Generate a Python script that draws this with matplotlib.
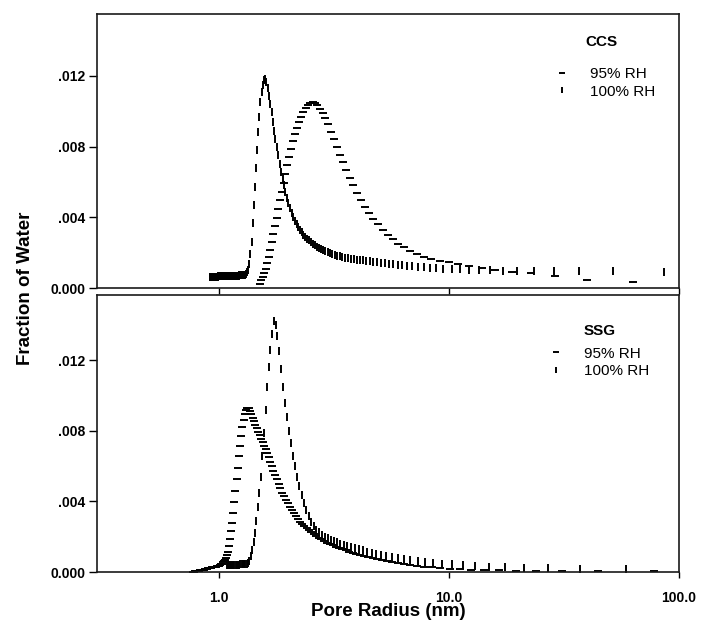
import numpy as np
import matplotlib
matplotlib.use("Agg")
import matplotlib.pyplot as plt
from matplotlib.ticker import FixedLocator, NullLocator

plt.rcParams['font.family'] = ['Liberation Sans', 'DejaVu Sans']

# pore radius (nm) and fraction of water (values in units of 1e-3)
ccs_100_x = [0.910, 0.916, 0.923, 0.929, 0.936, 0.943, 0.950, 0.957, 0.964, 0.971,
             0.978, 0.986, 0.993, 1.001, 1.009, 1.017, 1.025, 1.033, 1.041, 1.050,
             1.058, 1.067, 1.076, 1.085, 1.094, 1.103, 1.113, 1.122, 1.132, 1.142,
             1.152, 1.162, 1.173, 1.184, 1.194, 1.206, 1.217, 1.228, 1.240, 1.252,
             1.264, 1.277, 1.289, 1.302, 1.315, 1.329, 1.343, 1.357, 1.371, 1.386,
             1.401, 1.416, 1.431, 1.447, 1.464, 1.480, 1.497, 1.515, 1.533, 1.551,
             1.570, 1.589, 1.609, 1.629, 1.650, 1.671, 1.693, 1.715, 1.738, 1.761,
             1.786, 1.811, 1.836, 1.863, 1.890, 1.918, 1.946, 1.976, 2.006, 2.038,
             2.070, 2.104, 2.139, 2.174, 2.211, 2.250, 2.289, 2.330, 2.373, 2.417,
             2.463, 2.511, 2.560, 2.612, 2.665, 2.721, 2.779, 2.840, 2.904, 2.970,
             3.040, 3.112, 3.189, 3.269, 3.353, 3.442, 3.536, 3.635, 3.740, 3.851,
             3.968, 4.093, 4.227, 4.369, 4.521, 4.684, 4.859, 5.048, 5.252, 5.473,
             5.714, 5.977, 6.266, 6.583, 6.935, 7.326, 7.764, 8.258, 8.818, 9.461,
             10.3, 11.2, 12.2, 13.5, 15.1, 17.1, 19.8, 23.4, 28.6, 36.8, 51.5, 86.2]
ccs_100_y = [0.63, 0.63, 0.64, 0.63, 0.64, 0.64, 0.65, 0.64, 0.65, 0.65,
             0.65, 0.66, 0.65, 0.66, 0.66, 0.66, 0.67, 0.66, 0.67, 0.67,
             0.67, 0.68, 0.67, 0.68, 0.68, 0.68, 0.69, 0.68, 0.69, 0.69,
             0.69, 0.70, 0.69, 0.70, 0.70, 0.70, 0.71, 0.70, 0.71, 0.71,
             0.72, 0.72, 0.73, 0.74,
             0.78, 0.92, 1.0, 1.35, 1.9, 2.6, 3.7, 4.7, 5.7, 6.8,
             7.8, 8.8, 9.7, 10.5, 11.1, 11.5, 11.75,
             11.8, 11.65, 11.3, 10.85, 10.4, 9.95, 9.4, 8.9, 8.45, 8.0,
             7.5, 7.0, 6.55, 6.15, 5.8, 5.45, 5.1, 4.8, 4.5, 4.25,
             4.0, 3.8, 3.62, 3.45, 3.3, 3.15, 3.02, 2.9, 2.8, 2.7,
             2.6, 2.5, 2.42, 2.34, 2.27, 2.2, 2.14, 2.08, 2.02, 1.97,
             1.92, 1.87, 1.83, 1.79, 1.75, 1.72, 1.69, 1.66, 1.63, 1.61,
             1.58, 1.56, 1.53, 1.51, 1.49, 1.46, 1.44, 1.41, 1.38, 1.35,
             1.32, 1.29, 1.26, 1.23, 1.20, 1.17, 1.14, 1.12, 1.10,
             1.08, 1.05, 1.03, 1.01, 0.99, 0.97, 0.95, 0.94, 0.94, 0.94, 0.94, 0.92]

ccs_95_x = [1.505, 1.527, 1.549, 1.572, 1.595, 1.620, 1.645, 1.671, 1.697, 1.725,
            1.753, 1.783, 1.813, 1.844, 1.877, 1.911, 1.946, 1.982, 2.019, 2.058,
            2.099, 2.141, 2.185, 2.231, 2.279, 2.329, 2.381, 2.435, 2.493, 2.552,
            2.615, 2.681, 2.750, 2.823, 2.900, 2.982, 3.067, 3.159, 3.255, 3.358,
            3.467, 3.584, 3.709, 3.843, 3.987, 4.143, 4.310, 4.492, 4.690, 4.907,
            5.144, 5.405, 5.695, 6.017, 6.378, 6.784, 7.246, 7.776, 8.389, 9.107,
            9.960, 10.99, 12.25, 13.85, 15.92, 18.73, 22.73, 28.90, 39.68, 63.29]
ccs_95_y = [0.25, 0.45, 0.65, 0.85, 1.1, 1.4, 1.75, 2.15, 2.6, 3.05,
            3.5, 3.95, 4.45, 4.95, 5.45, 5.95, 6.45, 6.95, 7.4, 7.85,
            8.3, 8.7, 9.05, 9.4, 9.7, 9.95, 10.2, 10.35, 10.45, 10.5,
            10.45, 10.35, 10.15, 9.9, 9.6, 9.25, 8.85, 8.45, 8.0, 7.55,
            7.1, 6.7, 6.25, 5.8, 5.4, 5.0, 4.6, 4.25, 3.9, 3.6,
            3.3, 3.0, 2.75, 2.5, 2.3, 2.1, 1.93, 1.78, 1.65, 1.54,
            1.45, 1.35, 1.23, 1.12, 1.02, 0.92, 0.86, 0.66, 0.47, 0.34]

ssg_100_x = [1.079, 1.091, 1.103, 1.115, 1.127, 1.140, 1.153, 1.167, 1.181, 1.195,
             1.209, 1.224, 1.239, 1.255, 1.271, 1.287, 1.304, 1.321, 1.339, 1.357,
             1.376, 1.395, 1.414, 1.435, 1.456, 1.477, 1.499, 1.522, 1.546, 1.570,
             1.595, 1.621, 1.647, 1.675, 1.704, 1.733, 1.764, 1.795, 1.828, 1.862,
             1.898, 1.934, 1.972, 2.012, 2.053, 2.096, 2.141, 2.188, 2.237, 2.288,
             2.342, 2.398, 2.457, 2.519, 2.584, 2.653, 2.725, 2.801, 2.882, 2.967,
             3.058, 3.155, 3.257, 3.367, 3.484, 3.610, 3.745, 3.891, 4.049, 4.219,
             4.405, 4.608, 4.831, 5.076, 5.348, 5.650, 5.988, 6.369, 6.803, 7.299,
             7.874, 8.547, 9.346, 10.31, 11.49, 12.99, 14.93, 17.54, 21.28, 27.03,
             37.04, 58.82]
ssg_100_y = [0.38, 0.39, 0.39, 0.40, 0.40, 0.40, 0.41, 0.41, 0.41, 0.42,
             0.42, 0.42, 0.43, 0.43, 0.44, 0.44, 0.45, 0.47, 0.52, 0.65,
             0.9, 1.25, 1.7, 2.2, 2.9, 3.7, 4.5, 5.4, 6.6, 7.9,
             9.2, 10.5, 11.6, 12.6, 13.5, 14.25, 14.0, 13.4, 12.5, 11.5,
             10.5, 9.6, 8.8, 8.0, 7.3, 6.6, 6.0, 5.4, 4.85, 4.35,
             3.9, 3.5, 3.15, 2.85, 2.6, 2.4, 2.25, 2.12, 2.0, 1.9,
             1.82, 1.75, 1.68, 1.61, 1.54, 1.47, 1.40, 1.34, 1.28, 1.22,
             1.16, 1.10, 1.04, 0.98, 0.92, 0.86, 0.80, 0.74, 0.68, 0.63,
             0.58, 0.53, 0.48, 0.44, 0.38, 0.33, 0.29, 0.28, 0.24, 0.20,
             0.17, 0.17]

ssg_95_x = [0.770, 0.775, 0.781, 0.787, 0.793, 0.799, 0.805, 0.812, 0.818, 0.824,
            0.831, 0.838, 0.845, 0.851, 0.858, 0.866, 0.873, 0.880, 0.888, 0.895,
            0.903, 0.911, 0.919, 0.927, 0.936, 0.944, 0.953, 0.961, 0.970, 0.980,
            0.989, 0.998, 1.008, 1.018, 1.028, 1.038, 1.049, 1.059, 1.070, 1.081,
            1.093, 1.104, 1.116, 1.128, 1.140, 1.153, 1.166, 1.179, 1.193, 1.206,
            1.221, 1.235, 1.250, 1.265, 1.281, 1.297, 1.313, 1.330, 1.347, 1.364,
            1.383, 1.401, 1.420, 1.440, 1.460, 1.481, 1.502, 1.524, 1.547, 1.570,
            1.594, 1.619, 1.644, 1.671, 1.698, 1.726, 1.755, 1.785, 1.817, 1.849,
            1.882, 1.917, 1.953, 1.990, 2.029, 2.069, 2.111, 2.155, 2.200, 2.248,
            2.297, 2.349, 2.403, 2.460, 2.520, 2.582, 2.648, 2.717, 2.789, 2.866,
            2.947, 3.033, 3.124, 3.221, 3.323, 3.433, 3.550, 3.675, 3.810, 3.954,
            4.110, 4.279, 4.462, 4.662, 4.880, 5.120, 5.385, 5.679, 6.006, 6.373,
            6.789, 7.262, 7.806, 8.439, 9.183, 10.07, 11.15, 12.48, 14.18, 16.42,
            19.49, 23.98, 31.15, 44.44, 77.52]
ssg_95_y = [0.0, 0.01, 0.02, 0.03, 0.04, 0.05, 0.06, 0.07, 0.08, 0.09,
            0.10, 0.11, 0.12, 0.13, 0.14, 0.16, 0.17, 0.18, 0.19, 0.21,
            0.22, 0.23, 0.24, 0.25, 0.26, 0.27, 0.28, 0.29, 0.31, 0.32,
            0.34, 0.36, 0.39, 0.43, 0.48, 0.55, 0.62, 0.70, 0.80, 0.95,
            1.15, 1.45, 1.85, 2.3, 2.8, 3.35, 3.95, 4.6, 5.25, 5.9,
            6.55, 7.15, 7.7, 8.2, 8.6, 8.95, 9.2, 9.3, 9.3, 9.15,
            8.95, 8.75, 8.55, 8.35, 8.15, 7.95, 7.75, 7.55, 7.35, 7.15,
            6.95, 6.75, 6.5, 6.25, 6.0, 5.75, 5.5, 5.25, 5.0, 4.75,
            4.5, 4.3, 4.1, 3.9, 3.7, 3.5, 3.32, 3.15, 3.0, 2.85,
            2.72, 2.6, 2.48, 2.36, 2.25, 2.14, 2.04, 1.94, 1.85, 1.76,
            1.67, 1.59, 1.51, 1.43, 1.36, 1.29, 1.22, 1.15, 1.08, 1.02,
            0.96, 0.9, 0.84, 0.78, 0.72, 0.66, 0.6, 0.55, 0.49, 0.44,
            0.39, 0.34, 0.3, 0.26, 0.22, 0.19, 0.16, 0.13, 0.11, 0.09,
            0.07, 0.06, 0.06, 0.06, 0.06]

y_ticks = [0.0, 0.004, 0.008, 0.012]
y_ticklabels = ['0.000', '.004', '.008', '.012']
x_ticks = [1.0, 10.0, 100.0]
x_ticklabels = ['1.0', '10.0', '100.0']
labels = ['95% RH', '100% RH']

W, H = 704, 623
fig = plt.figure(figsize=(W / 100, H / 100), dpi=100)
ax1 = fig.add_axes([97 / W, 1 - 288 / H, 582 / W, 274 / H])
ax2 = fig.add_axes([97 / W, 1 - 572 / H, 582 / W, 277 / H])

ms = 5.2
mew = 1.4


def style(ax, top):
    ax.set_xscale('log')
    ax.set_xlim(0.295, 100)
    ax.set_ylim(0, 0.0155 if top else 0.0157)
    for s in ax.spines.values():
        s.set_linewidth(1.2)
        s.set_color('#1a1a1a')
    ax.yaxis.set_major_locator(FixedLocator(y_ticks))
    ax.set_yticklabels(y_ticklabels)
    ax.xaxis.set_major_locator(FixedLocator(x_ticks))
    ax.xaxis.set_minor_locator(NullLocator())
    ax.tick_params(axis='y', direction='out', length=5.5, width=1.0, pad=3, labelsize=10)
    ax.tick_params(axis='x', direction='out', length=4.5, width=1.0, pad=9, labelsize=10)
    if top:
        ax.set_xticklabels([])
    else:
        ax.set_xticklabels(x_ticklabels)
    for t in ax.get_xticklabels() + ax.get_yticklabels():
        t.set_fontweight('bold')


def panel(ax, x95, y95, x100, y100, name, tx, ty, lx, ly):
    l95, = ax.plot(x95, np.array(y95) * 1e-3, linestyle='none', marker='_',
                   ms=ms, mew=mew, color='black')
    l100, = ax.plot(x100, np.array(y100) * 1e-3, linestyle='none', marker='|',
                    ms=ms, mew=mew, color='black')
    ax.text(tx, ty, name, transform=ax.transAxes, ha='center', va='center',
            fontsize=11, fontweight='bold')
    ax.legend([l95, l100], labels, loc='upper left', bbox_to_anchor=(lx, ly),
              frameon=False, fontsize=11, handlelength=1.0, handletextpad=1.3,
              labelspacing=0.22, borderpad=0, borderaxespad=0, markerscale=0.75)


panel(ax1, ccs_95_x, ccs_95_y, ccs_100_x, ccs_100_y, 'CCS', 0.866, 0.898, 0.786, 0.806)
panel(ax2, ssg_95_x, ssg_95_y, ssg_100_x, ssg_100_y, 'SSG', 0.863, 0.870, 0.776, 0.814)
style(ax1, True)
style(ax2, False)

fig.text(25 / W, 1 - 288 / H, 'Fraction of Water', rotation=90, ha='center', va='center',
         fontsize=13.5, fontweight='bold')
fig.text(388 / W, 1 - 612 / H, 'Pore Radius (nm)', ha='center', va='center',
         fontsize=13.5, fontweight='bold')

fig.savefig('out.png', dpi=100)
